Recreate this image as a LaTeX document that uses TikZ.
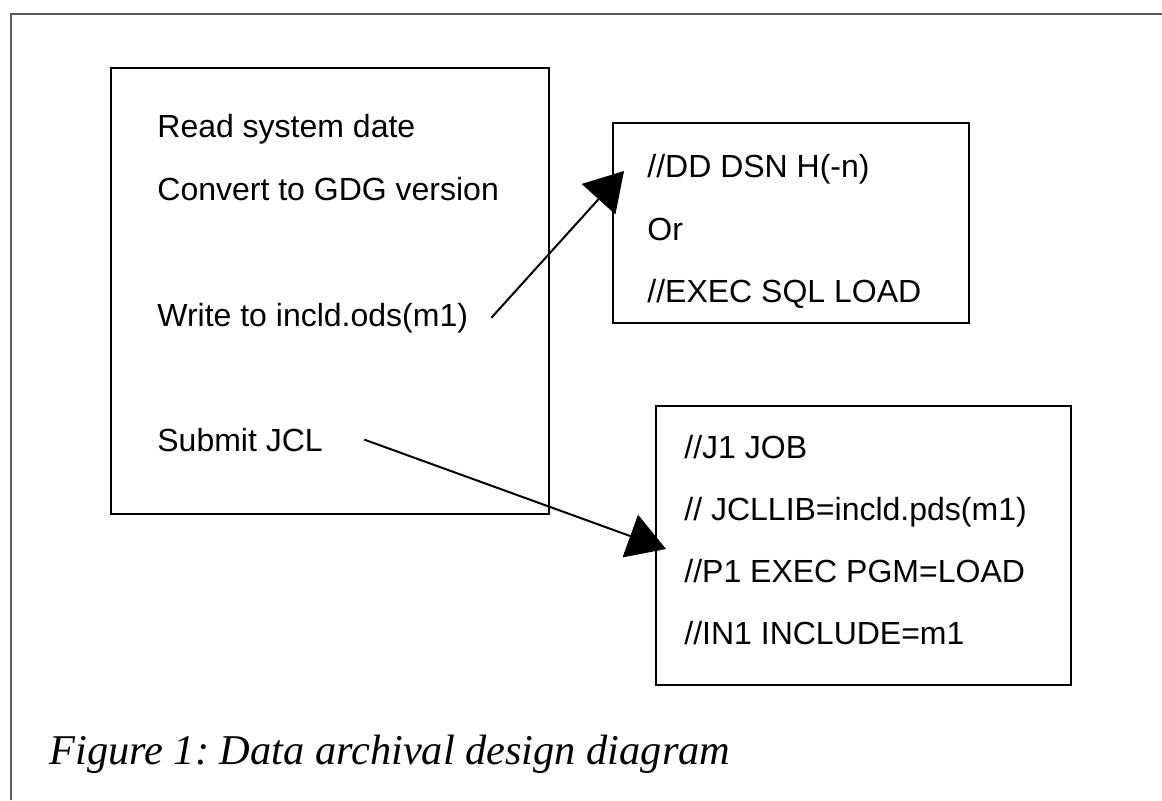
\documentclass[tikz,border=0pt]{standalone}
\usepackage{fontspec}
\setmainfont{Liberation Sans}
\newfontfamily\captionfont{Liberation Serif}
\usepackage{tikz}
\usetikzlibrary{positioning,arrows.meta}
\tikzset{
  box/.style={draw=black, line width=1pt, inner sep=0pt},
  txt/.style={anchor=base west, inner sep=0pt, font=\fontsize{16pt}{19pt}\selectfont},
  flow/.style={line width=1pt, -{Triangle[length=19pt,width=22.5pt]}},
  frame/.style={draw=black!65, line width=1.1pt}
}
\frenchspacing

\begin{document}
\begin{tikzpicture}[x=0.5pt,y=-0.5pt]
  \useasboundingbox (0,0) rectangle (1162,800);
  \draw[frame] (11,800) -- (11,14) -- (1162,14);
  % program steps
  \node[box,minimum width=219pt,minimum height=223pt] (prog) at (330,291) {};
  \node[txt] (read) at (157,137) {Read system date};
  \node[txt] (convert) at (157,200) {Convert to GDG version};
  \node[txt] (write) at (157,326) {Write to incld.ods(m1)};
  \node[txt] (submit) at (157,451) {Submit JCL};
  % member written
  \node[box,minimum width=178pt,minimum height=100pt] (member) at (791,223) {};
  \node[txt] (dd) at (647,177) {//DD DSN H(-n)};
  \node[txt] (or) at (647,240) {Or};
  \node[txt] (sql) at (647,302) {//EXEC SQL LOAD};
  % submitted job
  \node[box,minimum width=207.5pt,minimum height=139.5pt] (job) at (863.5,545.5) {};
  \node[txt] (jobcard) at (684,458) {//J1 JOB};
  \node[txt] (jcllib) at (684,520) {// JCLLIB=incld.pds(m1)};
  \node[txt] (exec) at (684,582) {//P1 EXEC PGM=LOAD};
  \node[txt] (incl) at (684,644) {//IN1 INCLUDE=m1};
  \coordinate (ddtip) at (624,171);
  \coordinate (jobtip) at (666,549);
  \draw[flow] ([xshift=11.5pt]write.east) -- (ddtip);
  \draw[flow] ([xshift=20.5pt]submit.east) -- (jobtip);
  \node[anchor=base west,inner sep=0pt,font={\captionfont\itshape\fontsize{21.2pt}{25pt}\selectfont}] (caption) at (49,764) {Figure 1: Data archival design diagram};
\end{tikzpicture}
\end{document}
